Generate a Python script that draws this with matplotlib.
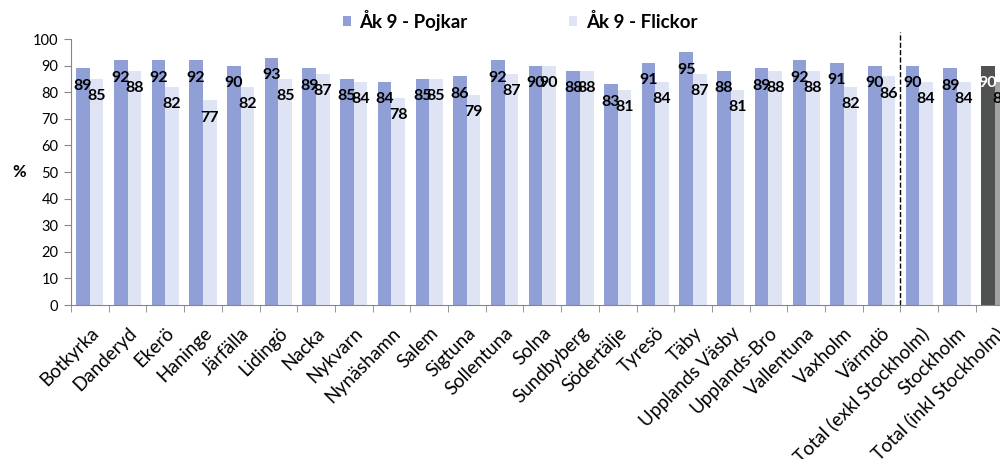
import matplotlib
matplotlib.use("Agg")
import matplotlib.pyplot as plt
import numpy as np

plt.rcParams["font.family"] = ["Lato", "DejaVu Sans"]

# Data
kommuner = [
    "Botkyrka", "Danderyd", "Ekerö", "Haninge", "Järfälla", "Lidingö",
    "Nacka", "Nykvarn", "Nynäshamn", "Salem", "Sigtuna", "Sollentuna",
    "Solna", "Sundbyberg", "Södertälje", "Tyresö", "Täby",
    "Upplands Väsby", "Upplands-Bro", "Vallentuna", "Vaxholm", "Värmdö",
    "Total (exkl Stockholm)", "Stockholm", "Total (inkl Stockholm)",
]
pojkar = [89, 92, 92, 92, 90, 93, 89, 85, 84, 85, 86, 92, 90, 88, 83,
          91, 95, 88, 89, 92, 91, 90, 90, 89, 90]
flickor = [85, 88, 82, 77, 82, 85, 87, 84, 78, 85, 79, 87, 90, 88, 81,
           84, 87, 81, 88, 88, 82, 86, 84, 84, 84]

# Colors (last group highlighted in grey)
boy_col = "#909fd6"
girl_col = "#dfe4f5"
boy_total = "#4f5250"
girl_total = "#a3a3a3"

x = np.arange(len(kommuner))
width = 0.36

fig = plt.figure(figsize=(10, 4.59), dpi=100)
ax = fig.add_axes([0.071, 0.3355, 0.9425, 0.5795])

boy_colors = [boy_col] * (len(x) - 1) + [boy_total]
girl_colors = [girl_col] * (len(x) - 1) + [girl_total]

b1 = ax.bar(x - 0.18, pojkar, width, color=boy_colors, label="Åk 9 - Pojkar")
b2 = ax.bar(x + 0.18, flickor, width, color=girl_colors, label="Åk 9 - Flickor")

# Value labels just inside the top of each bar
for i in range(len(x)):
    ax.annotate(str(pojkar[i]), (x[i] - 0.18, pojkar[i]), xytext=(0, -12.5),
                textcoords="offset points", ha="center", va="center",
                fontsize=11.5, fontweight="bold",
                color="white" if i == len(x) - 1 else "black")
    ax.annotate(str(flickor[i]), (x[i] + 0.18, flickor[i]), xytext=(0, -12.5),
                textcoords="offset points", ha="center", va="center",
                fontsize=11.5, fontweight="bold", color="black")

# Separator between municipalities and totals
ax.plot([21.5, 21.5], [0, 102.5], color="black", linestyle="--",
        linewidth=1, clip_on=False)

ax.set_xlim(-0.5, len(x) - 0.5)
ax.set_ylim(0, 100)
ax.set_yticks(range(0, 101, 10))
ax.tick_params(axis="y", labelsize=10.5, length=5, color="#868686", pad=4)

ax.set_xticks(x)
ax.set_xticklabels(kommuner, rotation=45, ha="right", rotation_mode="anchor",
                   fontsize=13.5)
ax.tick_params(axis="x", which="major", length=0, pad=14)
ax.set_xticks(np.arange(-0.5, len(x), 1), minor=True)
ax.tick_params(axis="x", which="minor", length=5, color="#868686")

for s in ["top", "right"]:
    ax.spines[s].set_visible(False)
for s in ["left", "bottom"]:
    ax.spines[s].set_color("#868686")

ax.set_ylabel("%", rotation=0, fontsize=12, fontweight="bold", labelpad=10,
              va="center")

fig.legend(handles=[b1, b2], loc="center", bbox_to_anchor=(0.52, 0.956),
           ncol=2, frameon=False, handlelength=0.45, handleheight=0.45,
           columnspacing=5.4, handletextpad=0.45,
           prop={"weight": "bold", "size": 13.5})

fig.savefig("out.png", dpi=100)
